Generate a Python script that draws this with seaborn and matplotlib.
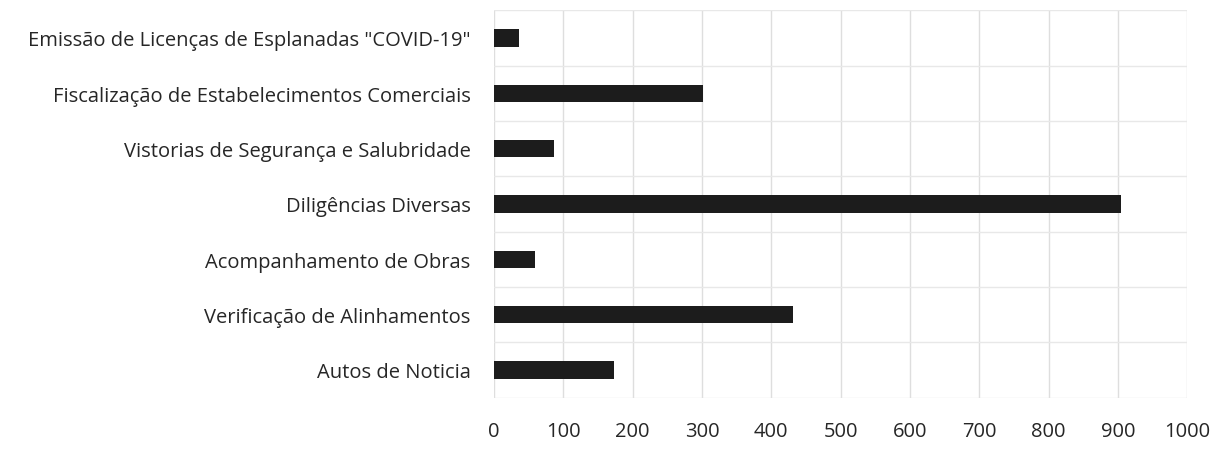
import matplotlib
matplotlib.use("Agg")
import matplotlib.pyplot as plt
from matplotlib.ticker import FixedLocator
import seaborn as sns
import pandas as pd

categories = [
    'Emissão de Licenças de Esplanadas "COVID-19"',
    "Fiscalização de Estabelecimentos Comerciais",
    "Vistorias de Segurança e Salubridade",
    "Diligências Diversas",
    "Acompanhamento de Obras",
    "Verificação de Alinhamentos",
    "Autos de Noticia",
]
values = [36, 302, 87, 905, 59, 431, 173]
x_ticks = [0, 100, 200, 300, 400, 500, 600, 700, 800, 900, 1000]

df = pd.DataFrame({"categoria": categories, "total": values})

sns.set_theme(style="white")
plt.rcParams["font.family"] = ["Open Sans", "DejaVu Sans"]

fig = plt.figure(figsize=(12.29, 4.52), dpi=100)
ax = fig.add_axes([0.402, 0.118, 0.564, 0.857])

sns.barplot(data=df, x="total", y="categoria", order=categories,
            color="#1c1c1c", width=0.31, orient="h", ax=ax,
            saturation=1, edgecolor="none")

ax.set_xlim(0, 1000)
ax.set_ylim(len(categories) - 0.5, -0.5)
ax.set_xticks(x_ticks)
ax.set_xticklabels([str(t) for t in x_ticks])
ax.yaxis.set_minor_locator(FixedLocator([i - 0.5 for i in range(len(categories) + 1)]))

ax.grid(True, axis="x", which="major", color="#dedede", linewidth=1.0)
ax.grid(True, axis="y", which="minor", color="#e8e8e8", linewidth=1.0)
ax.grid(False, axis="y", which="major")
ax.set_axisbelow(True)

for s in ax.spines.values():
    s.set_visible(False)

ax.set_xlabel("")
ax.set_ylabel("")
ax.tick_params(axis="x", which="both", length=0, pad=17, labelsize=14.5, colors="#262626")
ax.tick_params(axis="y", which="both", length=0, pad=17, labelsize=14.5, colors="#262626")

fig.savefig("out.png", dpi=100, facecolor="white")
